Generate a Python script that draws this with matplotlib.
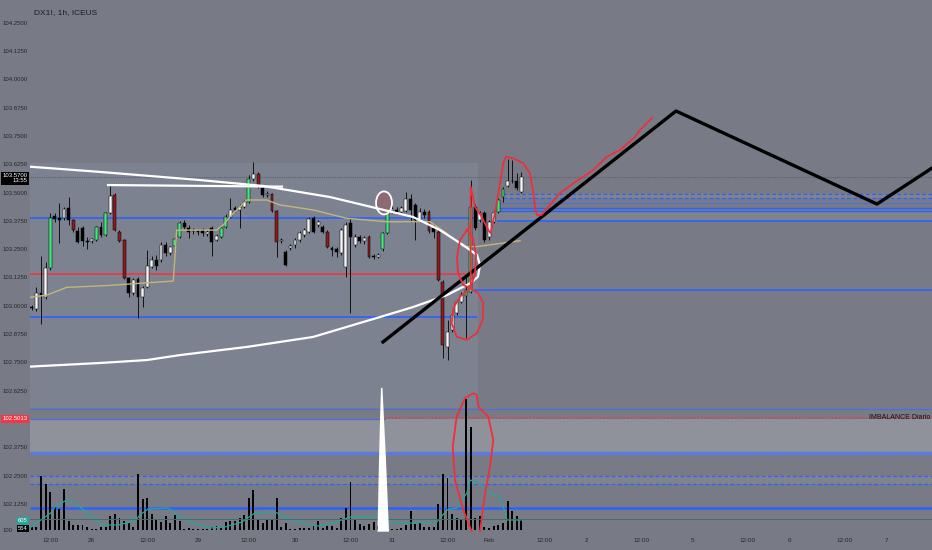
import matplotlib
matplotlib.use("Agg")
import matplotlib.pyplot as plt
from matplotlib.patches import Rectangle, Ellipse, Polygon
import numpy as np

plt.rcParams['font.family'] = ['Liberation Sans', 'DejaVu Sans']

# --- hourly candles DX1! ---
opens = [102.994, 102.985, 103.056, 103.039, 103.167, 103.396, 103.388, 103.388, 103.432, 103.379,
         103.330, 103.343, 103.286, 103.286, 103.290, 103.348, 103.312, 103.410, 103.489, 103.326,
         103.290, 103.122, 103.056, 103.118, 103.039, 103.083, 103.171, 103.202, 103.202, 103.268,
         103.233, 103.264, 103.304, 103.365, 103.343, 103.330, 103.330, 103.334, 103.317, 103.343,
         103.290, 103.304, 103.348, 103.392, 103.432, 103.423, 103.436, 103.458, 103.560, 103.582,
         103.520, 103.489, 103.493, 103.419, 103.286, 103.237, 103.255, 103.268, 103.290, 103.312,
         103.326, 103.388, 103.357, 103.348, 103.326, 103.255, 103.250, 103.233, 103.171, 103.365,
         103.268, 103.304, 103.286, 103.304, 103.219, 103.215, 103.250, 103.321, 103.419, 103.423,
         103.414, 103.419, 103.471, 103.445, 103.379, 103.414, 103.414, 103.343, 103.326, 103.105,
         102.818, 102.893, 102.968, 103.016, 103.043, 103.060, 103.436, 103.379, 103.410, 103.304,
         103.370, 103.414, 103.480, 103.529, 103.551, 103.551, 103.502]
highs = [103.003, 103.083, 103.219, 103.193, 103.410, 103.410, 103.454, 103.436, 103.480, 103.383,
         103.348, 103.352, 103.304, 103.299, 103.352, 103.370, 103.414, 103.529, 103.498, 103.334,
         103.295, 103.127, 103.122, 103.127, 103.087, 103.246, 103.219, 103.224, 103.281, 103.281,
         103.264, 103.299, 103.374, 103.379, 103.357, 103.343, 103.339, 103.343, 103.334, 103.352,
         103.317, 103.352, 103.405, 103.476, 103.441, 103.449, 103.467, 103.577, 103.635, 103.591,
         103.529, 103.507, 103.498, 103.423, 103.299, 103.246, 103.273, 103.299, 103.330, 103.343,
         103.392, 103.396, 103.379, 103.357, 103.334, 103.264, 103.259, 103.343, 103.370, 103.388,
         103.317, 103.312, 103.308, 103.312, 103.228, 103.233, 103.326, 103.454, 103.445, 103.436,
         103.441, 103.502, 103.493, 103.454, 103.432, 103.427, 103.423, 103.361, 103.334, 103.114,
         102.937, 102.972, 103.030, 103.060, 103.136, 103.555, 103.449, 103.419, 103.419, 103.379,
         103.423, 103.476, 103.524, 103.648, 103.644, 103.586, 103.591]
lows = [102.983, 102.977, 102.919, 103.030, 103.158, 103.370, 103.277, 103.379, 103.357, 103.326,
        103.277, 103.264, 103.250, 103.277, 103.286, 103.304, 103.308, 103.405, 103.330, 103.281,
        103.118, 103.039, 103.047, 102.946, 102.994, 103.078, 103.167, 103.158, 103.193, 103.219,
        103.224, 103.259, 103.299, 103.339, 103.299, 103.317, 103.312, 103.308, 103.308, 103.219,
        103.286, 103.299, 103.343, 103.388, 103.414, 103.343, 103.432, 103.454, 103.551, 103.520,
        103.480, 103.480, 103.414, 103.215, 103.277, 103.175, 103.246, 103.255, 103.281, 103.304,
        103.321, 103.321, 103.348, 103.321, 103.255, 103.219, 103.215, 103.224, 103.127, 102.968,
        103.259, 103.277, 103.273, 103.211, 103.206, 103.211, 103.242, 103.317, 103.410, 103.405,
        103.410, 103.414, 103.370, 103.290, 103.370, 103.388, 103.321, 103.299, 103.109, 102.769,
        102.760, 102.884, 102.959, 103.012, 102.857, 103.056, 103.334, 103.370, 103.281, 103.290,
        103.365, 103.410, 103.458, 103.524, 103.542, 103.511, 103.498]
closes = [102.990, 103.056, 103.047, 103.167, 103.388, 103.383, 103.379, 103.427, 103.379, 103.334,
          103.281, 103.286, 103.281, 103.295, 103.348, 103.312, 103.410, 103.485, 103.334, 103.286,
          103.122, 103.056, 103.114, 103.039, 103.078, 103.175, 103.202, 103.175, 103.268, 103.233,
          103.259, 103.295, 103.365, 103.348, 103.326, 103.334, 103.326, 103.321, 103.326, 103.281,
          103.308, 103.343, 103.392, 103.423, 103.423, 103.436, 103.458, 103.560, 103.582, 103.529,
          103.489, 103.493, 103.419, 103.281, 103.290, 103.180, 103.264, 103.290, 103.321, 103.334,
          103.383, 103.326, 103.370, 103.326, 103.259, 103.246, 103.237, 103.334, 103.357, 103.304,
          103.304, 103.286, 103.299, 103.215, 103.215, 103.224, 103.321, 103.436, 103.427, 103.414,
          103.432, 103.471, 103.423, 103.379, 103.414, 103.401, 103.330, 103.326, 103.114, 102.826,
          102.884, 102.959, 103.016, 103.047, 103.069, 103.436, 103.343, 103.410, 103.290, 103.370,
          103.410, 103.467, 103.516, 103.551, 103.549, 103.520, 103.570]
# candles the indicator paints green / red
painted = [4, 9, 14, 16, 18, 19, 20, 31, 32, 41, 42, 47, 49, 52, 53, 64, 73, 76, 77,
           86, 88, 89, 94, 95, 101, 102]

volumes = [165, 180, 2970, 2530, 2070, 1280, 1155, 2255, 510, 260,
           275, 275, 150, 55, 55, 150, 150, 770, 880, 645,
           510, 370, 150, 3080, 1705, 1745, 880, 605, 455, 770,
           400, 810, 510, 80, 125, 55, 55, 55, 55, 150,
           220, 150, 440, 495, 495, 675, 825, 1775, 2200, 590,
           370, 550, 550, 1745, 150, 370, 55, 55, 125, 125,
           125, 220, 510, 95, 220, 220, 125, 645, 1195, 2625,
           550, 330, 220, 315, 455, 220, 165, 110, 55, 55,
           95, 275, 1060, 330, 370, 180, 180, 180, 1430, 3065,
           2875, 880, 675, 605, 7205, 5680, 645, 770, 180, 95,
           220, 275, 370, 1595, 1060, 770, 554]
vol_ma_x = [-0.4, 4.4, 5.0, 7.2, 8.9, 10.5, 13.0, 15.2, 18.7, 22.4, 23.4, 25.2, 29.5, 32.5,
            35.4, 39.0, 41.8, 45.5, 48.3, 52.7, 56.0, 58.7, 61.8, 64.6, 68.9, 74.7, 78.2,
            82.5, 87.7, 89.9, 92.0, 94.2, 94.9, 97.0, 99.2, 101.4, 102.9, 106.3]
vol_ma = [110, 990, 1265, 1595, 1650, 1265, 715, 275, 275, 495, 825, 1155, 1210, 660,
          330, 110, 165, 440, 935, 990, 550, 385, 220, 330, 715, 770, 385,
          385, 440, 1100, 1210, 2035, 2750, 2585, 2035, 1815, 550, 550]

vwap_x = [-0.37, 3.25, 7.58, 16.23, 30.65, 31.39, 40.04, 41.47, 42.92, 46.54, 50.87, 53.74,
          60.95, 68.18, 76.84, 86.21, 89.83, 93.42, 96.32, 105.69]
vwap_y = [103.037, 103.047, 103.081, 103.089, 103.109, 103.334, 103.334, 103.357, 103.393,
          103.467, 103.467, 103.445, 103.423, 103.386, 103.371, 103.371, 103.320, 103.261,
          103.261, 103.287]

tick_pos = [4, 13, 25, 36, 47, 57, 69, 78, 90, 99, 111, 120, 132, 143, 155, 164, 176, 185]
tick_labels = ['12:00', '26', '12:00', '29', '12:00', '30', '12:00', '31', '12:00', 'Feb',
               '12:00', '2', '12:00', '5', '12:00', '6', '12:00', '7']
price_ticks = [104.25, 104.125, 104.0, 103.875, 103.75, 103.625, 103.5, 103.375, 103.25,
               103.125, 103.0, 102.875, 102.75, 102.625, 102.5, 102.375, 102.25, 102.125]

# --- hand drawings (bar index, price) ---
arc_x = [-0.37, 14.78, 36.43, 50.06, 64.57, 75.39, 82.53, 88.38, 93.36, 96.39, 97.03,
         96.6, 94.87, 89.89, 82.53, 75.39, 60.89, 46.6, 32.1, 24.96, 14.78, -0.37]
arc_y = [103.614, 103.591, 103.555, 103.529, 103.480, 103.427, 103.392, 103.334, 103.268, 103.224, 103.180,
         103.128, 103.099, 103.047, 102.994, 102.950, 102.862, 102.818, 102.782, 102.760, 102.747, 102.731]
top_line_x = [16.52, 54.18]
top_line_y = [103.533, 103.526]
zigzag_x = [76.04, 139.46, 182.96, 194.87]
zigzag_y = [102.840, 103.860, 103.449, 103.608]
red_swing_x = [95.02, 95.0, 95.02, 95.95, 97.4, 98.83, 99.35, 99.78, 100.65, 101.36, 102.08, 102.66,
               104.24, 106.41, 107.86, 108.57, 108.94, 109.31, 110.39, 111.82, 114.35, 117.23,
               121.56, 124.46, 127.34, 130.58, 131.67, 134.26]
red_swing_y = [103.077, 103.246, 103.526, 103.437, 103.393, 103.334, 103.320, 103.364, 103.452,
               103.541, 103.629, 103.658, 103.651, 103.629, 103.585, 103.497, 103.437, 103.401,
               103.401, 103.437, 103.497, 103.541, 103.599, 103.658, 103.688, 103.745, 103.776, 103.829]
red_loop1_x = [94.22, 92.71, 92.06, 92.27, 93.36, 94.87, 95.95, 96.17, 95.52, 94.22, 94.87]
red_loop1_y = [103.334, 103.290, 103.215, 103.145, 103.092, 103.078, 103.136, 103.224, 103.299, 103.334, 103.352]
red_loop2_x = [94.87, 96.67, 97.75, 97.62, 96.32, 94.16, 91.99, 90.91, 91.26, 92.71, 94.5]
red_loop2_y = [103.077, 103.055, 103.011, 102.937, 102.878, 102.849, 102.863, 102.922, 102.989, 103.040, 103.069]
red_loop3_x = [95.24, 93.42, 91.62, 91.13, 91.99, 93.79, 95.58, 96.32, 96.67, 98.83, 99.91, 99.2, 98.12, 97.03]
red_loop3_y = [102.002, 102.098, 102.230, 102.377, 102.510, 102.592, 102.613, 102.606, 102.554,
               102.510, 102.407, 102.289, 102.171, 102.002]
spike_x = [75.6, 75.39, 75.17, 74.85, 77.34, 76.69, 76.26, 75.93]
spike_y = [102.637, 102.495, 102.318, 102.002, 102.002, 102.318, 102.495, 102.637]

BG = '#787b86'
BLUE = '#2962ff'
RED = '#f23645'
TXT = '#24262c'
X0, X1 = -0.368, 194.87
Y0, Y1 = 102.0005, 104.3503

W, H = 932, 550
fig = plt.figure(figsize=(W / 100, H / 100), dpi=100, facecolor=BG)
rect = [30 / W, 18 / H, 902 / W, 532 / H]

ax = fig.add_axes(rect)
ax.set_facecolor(BG)
ax.set_xlim(X0, X1)
ax.set_ylim(Y0, Y1)
for s in ax.spines.values():
    s.set_visible(False)
ax.set_yticks(price_ticks, ['%.4f' % p for p in price_ticks])
ax.set_xticks(tick_pos, tick_labels)
ax.tick_params(axis='y', length=0, pad=1.5, labelsize=4.3, labelcolor=TXT)
ax.tick_params(axis='x', length=0, pad=4, labelsize=4.6, labelcolor=TXT)

# range box + zones
ax.add_patch(Rectangle((X0, 102.548), 96.6 - X0, 103.630 - 102.548, fc='#7c8290', ec='none', zorder=0.5))
ax.axhspan(102.349, 102.4996, fc='#8f929b', ec='none', zorder=0.6)
ax.axhspan(102.213, 102.248, fc='#80838e', ec='none', zorder=0.6)
ax.fill_between([102.0, X1], 103.474, 103.493, color='#80838e', lw=0, zorder=0.6)
ax.fill_between([100.65, X1], 103.376, 103.418, color='#7f838e', lw=0, zorder=0.6)

ax.hlines(103.388, X0, 96.6, color=BLUE, lw=1.2, zorder=1)
ax.hlines(103.139, X0, 96.0, color=RED, lw=1.2, zorder=1)
ax.hlines(102.949, X0, 96.4, color=BLUE, lw=1.2, zorder=1)
ax.hlines(103.069, 95.3, X1, color=BLUE, lw=1.2, zorder=1)
ax.hlines([103.493, 103.474], 102.0, X1, color=BLUE, lw=0.9, linestyles=(0, (3, 2)), zorder=1)
ax.hlines(103.452, 101.2, X1, color='#4a6fd8', lw=0.8, zorder=1)
ax.hlines([103.430, 103.418], 101.2, X1, color=BLUE, lw=1.0, zorder=1)
ax.hlines(103.376, 100.65, X1, color=BLUE, lw=1.2, zorder=1)
ax.hlines(103.570, X0, X1, color='#5d606b', lw=0.8, linestyles=(0, (1, 1)), zorder=1)

ax.hlines(102.544, X0, X1, color='#4a6fd8', lw=0.9, zorder=1)
ax.hlines(102.4996, X0, 76.48, color='#4a6fd8', lw=0.9, zorder=1)
ax.hlines(102.504, 76.48, X1, color=RED, lw=1.1, linestyles=(0, (1, 1.2)), zorder=1)
ax.hlines(102.349, X0, X1, color='#5b7be0', lw=2.4, zorder=1)
ax.hlines([102.248, 102.213], X0, X1, color=BLUE, lw=0.9, linestyles=(0, (3, 2)), zorder=1)
ax.hlines(102.106, X0, X1, color=BLUE, lw=1.8, zorder=1)

# --- volume pane overlay ---
ax_v = fig.add_axes(rect, sharex=ax)
ax_v.set_zorder(2)
ax_v.patch.set_alpha(0)
ax_v.axis('off')
ax_v.set_ylim(-110, 29150)
xs = np.arange(len(volumes))
ax_v.bar(xs, volumes, width=0.42, color='black', lw=0)
ax_v.plot(vol_ma_x, vol_ma, color='#26a69a', lw=0.9)
ax_v.axhline(605, color='#3c6f6c', lw=0.7)

# --- candles & drawings ---
ax_d = fig.add_axes(rect, sharex=ax, sharey=ax)
ax_d.set_zorder(3)
ax_d.patch.set_alpha(0)
ax_d.axis('off')

o = np.array(opens); c = np.array(closes)
cx = np.arange(len(opens))
colors = []
for i in cx:
    up = c[i] >= o[i]
    if i in painted:
        colors.append('#42e87c' if up else '#8e1b1e')
    else:
        colors.append('#f7f7f7' if up else '#000000')
ax_d.vlines(cx, lows, highs, color='#111111', lw=0.7, zorder=2)
bottoms = np.minimum(o, c)
heights = np.maximum(np.abs(c - o), 0.0025)
ax_d.bar(cx, heights, bottom=bottoms, width=0.62, color=colors, edgecolor='black', linewidth=0.35, zorder=3)

ax_d.plot(vwap_x, vwap_y, color='#c4b57c', lw=1.0, zorder=4)
ax_d.add_patch(Ellipse((76.26, 103.454), 3.46, 0.1016, fc='#8c6a72', ec='white', lw=1.3, zorder=5))
ax_d.plot(arc_x, arc_y, color='white', lw=1.6, zorder=6, solid_capstyle='round')
ax_d.plot(top_line_x, top_line_y, color='white', lw=1.6, zorder=6)
ax_d.plot(zigzag_x, zigzag_y, color='black', lw=2.4, zorder=7)
for px, py in [(red_swing_x, red_swing_y), (red_loop1_x, red_loop1_y),
               (red_loop2_x, red_loop2_y), (red_loop3_x, red_loop3_y)]:
    ax_d.plot(px, py, color='#ee2f3c', lw=1.3, zorder=8, solid_joinstyle='round')
ax_d.add_patch(Polygon(list(zip(spike_x, spike_y)), closed=True, fc='white', ec='none', zorder=6))

ax_d.text(194.6, 102.506, 'IMBALANCE Diario', ha='right', va='center', fontsize=5.0,
          color='#111111', zorder=9)
ax_d.text(0.4, 104.297, 'DX1!, 1h, ICEUS', ha='left', va='center', fontsize=6.0,
          color='#1b1d22', zorder=9)

# axis labels on the left scale
yt = ax.get_yaxis_transform()
ax.text(-0.0025, 103.563, '103.5700\n13:55', transform=yt, ha='right', va='center', fontsize=4.3,
        color='white', linespacing=1.1, multialignment='right',
        bbox=dict(boxstyle='square,pad=0.25', fc='black', ec='none'), zorder=10, clip_on=False)
ax.text(-0.0025, 102.5013, '102.5013', transform=yt, ha='right', va='center', fontsize=4.3,
        color='white', bbox=dict(boxstyle='square,pad=0.25', fc=RED, ec='none'), zorder=10, clip_on=False)
ax.text(-0.019, 102.009, '100', transform=yt, ha='right', va='center', fontsize=4.2, color=TXT,
        clip_on=False)
vt = ax_v.get_yaxis_transform()
ax_v.text(-0.0025, 520, '605', transform=vt, ha='right', va='center', fontsize=4.2, color='white',
          bbox=dict(boxstyle='square,pad=0.25', fc='#26a69a', ec='none'), clip_on=False)
ax_v.text(-0.0025, 80, '554', transform=vt, ha='right', va='center', fontsize=4.2, color='white',
          bbox=dict(boxstyle='square,pad=0.2', fc='black', ec='none'), clip_on=False)

fig.savefig('out.png', dpi=100, facecolor=BG)
